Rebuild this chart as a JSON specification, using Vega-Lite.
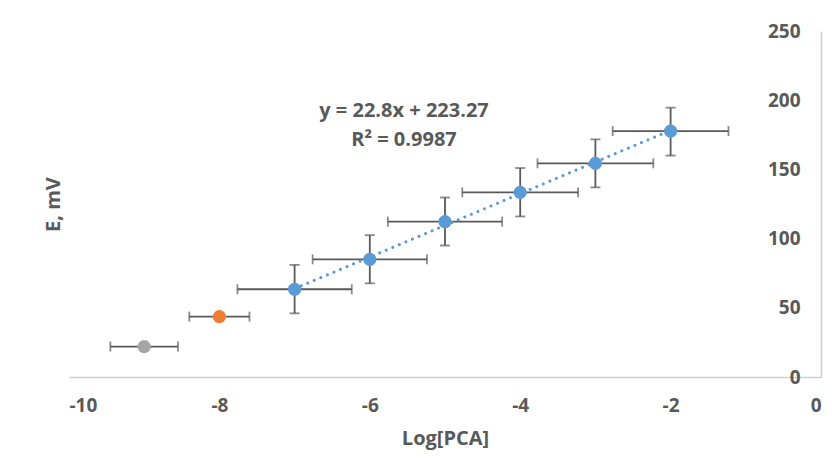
{
  "$schema": "https://vega.github.io/schema/vega-lite/v6.json",
  "width": 752,
  "height": 346,
  "autosize": {"type": "none"},
  "padding": {"left": 69, "top": 31, "right": 16, "bottom": 80},
  "background": "white",
  "config": {
    "view": {"stroke": null},
    "font": "Open Sans",
    "axis": {"grid": false, "ticks": false, "domainColor": "#D0D0D0", "domainWidth": 1.5, "labelColor": "#595959", "labelFont": "Open Sans", "labelFontWeight": "bold", "labelFontSize": 19, "titleColor": "#595959", "titleFont": "Open Sans", "titleFontWeight": "bold", "titleFontSize": 20}
  },
  "data": {
    "values": [
      {"x": -9, "y": 22, "xlo": -9.45, "xhi": -8.55, "grp": "g1"},
      {"x": -8, "y": 43.6, "xlo": -8.4, "xhi": -7.6, "grp": "g2"},
      {"x": -7, "y": 63.4, "xlo": -7.76, "xhi": -6.24, "ylo": 46, "yhi": 81, "grp": "main"},
      {"x": -6, "y": 85, "xlo": -6.76, "xhi": -5.24, "ylo": 67.7, "yhi": 102.5, "grp": "main"},
      {"x": -5, "y": 112.2, "xlo": -5.76, "xhi": -4.24, "ylo": 95, "yhi": 129.7, "grp": "main"},
      {"x": -4, "y": 133.4, "xlo": -4.77, "xhi": -3.23, "ylo": 116, "yhi": 151, "grp": "main"},
      {"x": -3, "y": 154.4, "xlo": -3.77, "xhi": -2.23, "ylo": 137, "yhi": 171.7, "grp": "main"},
      {"x": -2, "y": 177.7, "xlo": -2.77, "xhi": -1.23, "ylo": 160, "yhi": 194.6, "grp": "main"}
    ]
  },
  "layer": [
    {
      "mark": {"type": "errorbar", "color": "#595959", "thickness": 1.8, "ticks": {"size": 10, "thickness": 1.8, "color": "#595959"}},
      "encoding": {
        "x": {"field": "xlo", "type": "quantitative", "title": "Log[PCA]", "scale": {"domain": [-10, 0], "nice": false}, "axis": {"values": [-10, -8, -6, -4, -2, 0], "labelExpr": "'' + datum.value", "labelPadding": 19, "title": "Log[PCA]", "titlePadding": 13}},
        "x2": {"field": "xhi"},
        "y": {"field": "y", "type": "quantitative", "title": "E, mV", "scale": {"domain": [0, 250], "nice": false}, "axis": {"values": [0, 50, 100, 150, 200, 250], "offset": -752, "labelPadding": 21, "labelAlign": "right", "title": "E, mV", "titleX": -768, "titleY": 173, "titleAngle": -90, "titleAlign": "center", "titleBaseline": "middle"}}
      }
    },
    {
      "transform": [{"filter": "datum.ylo != null"}],
      "mark": {"type": "errorbar", "color": "#595959", "thickness": 1.8, "ticks": {"size": 10, "thickness": 1.8, "color": "#595959"}},
      "encoding": {
        "x": {"field": "x", "type": "quantitative", "title": "Log[PCA]"},
        "y": {"field": "ylo", "type": "quantitative", "title": "E, mV"},
        "y2": {"field": "yhi"}
      }
    },
    {
      "transform": [{"filter": "datum.grp == 'main'"}, {"regression": "y", "on": "x"}],
      "mark": {"type": "line", "color": "#5B9BD5", "strokeWidth": 3, "strokeDash": [0.1, 7], "strokeCap": "round"},
      "encoding": {
        "x": {"field": "x", "type": "quantitative", "title": "Log[PCA]"},
        "y": {"field": "y", "type": "quantitative", "title": "E, mV"}
      }
    },
    {
      "mark": {"type": "point", "filled": true, "opacity": 1, "size": 175},
      "encoding": {
        "x": {"field": "x", "type": "quantitative", "title": "Log[PCA]"},
        "y": {"field": "y", "type": "quantitative", "title": "E, mV"},
        "color": {"field": "grp", "type": "nominal", "scale": {"domain": ["g1", "g2", "main"], "range": ["#A5A5A5", "#ED7D31", "#5B9BD5"]}, "legend": null}
      }
    },
    {
      "data": {"values": [
        {"tx": -5.545, "ty": 192, "label": "y = 22.8x + 223.27"},
        {"tx": -5.545, "ty": 171.5, "label": "R² = 0.9987"}
      ]},
      "mark": {"type": "text", "font": "Open Sans", "fontWeight": "bold", "fontSize": 20, "color": "#595959", "align": "center", "baseline": "middle"},
      "encoding": {
        "x": {"field": "tx", "type": "quantitative", "title": "Log[PCA]"},
        "y": {"field": "ty", "type": "quantitative", "title": "E, mV"},
        "text": {"field": "label"}
      }
    }
  ]
}
